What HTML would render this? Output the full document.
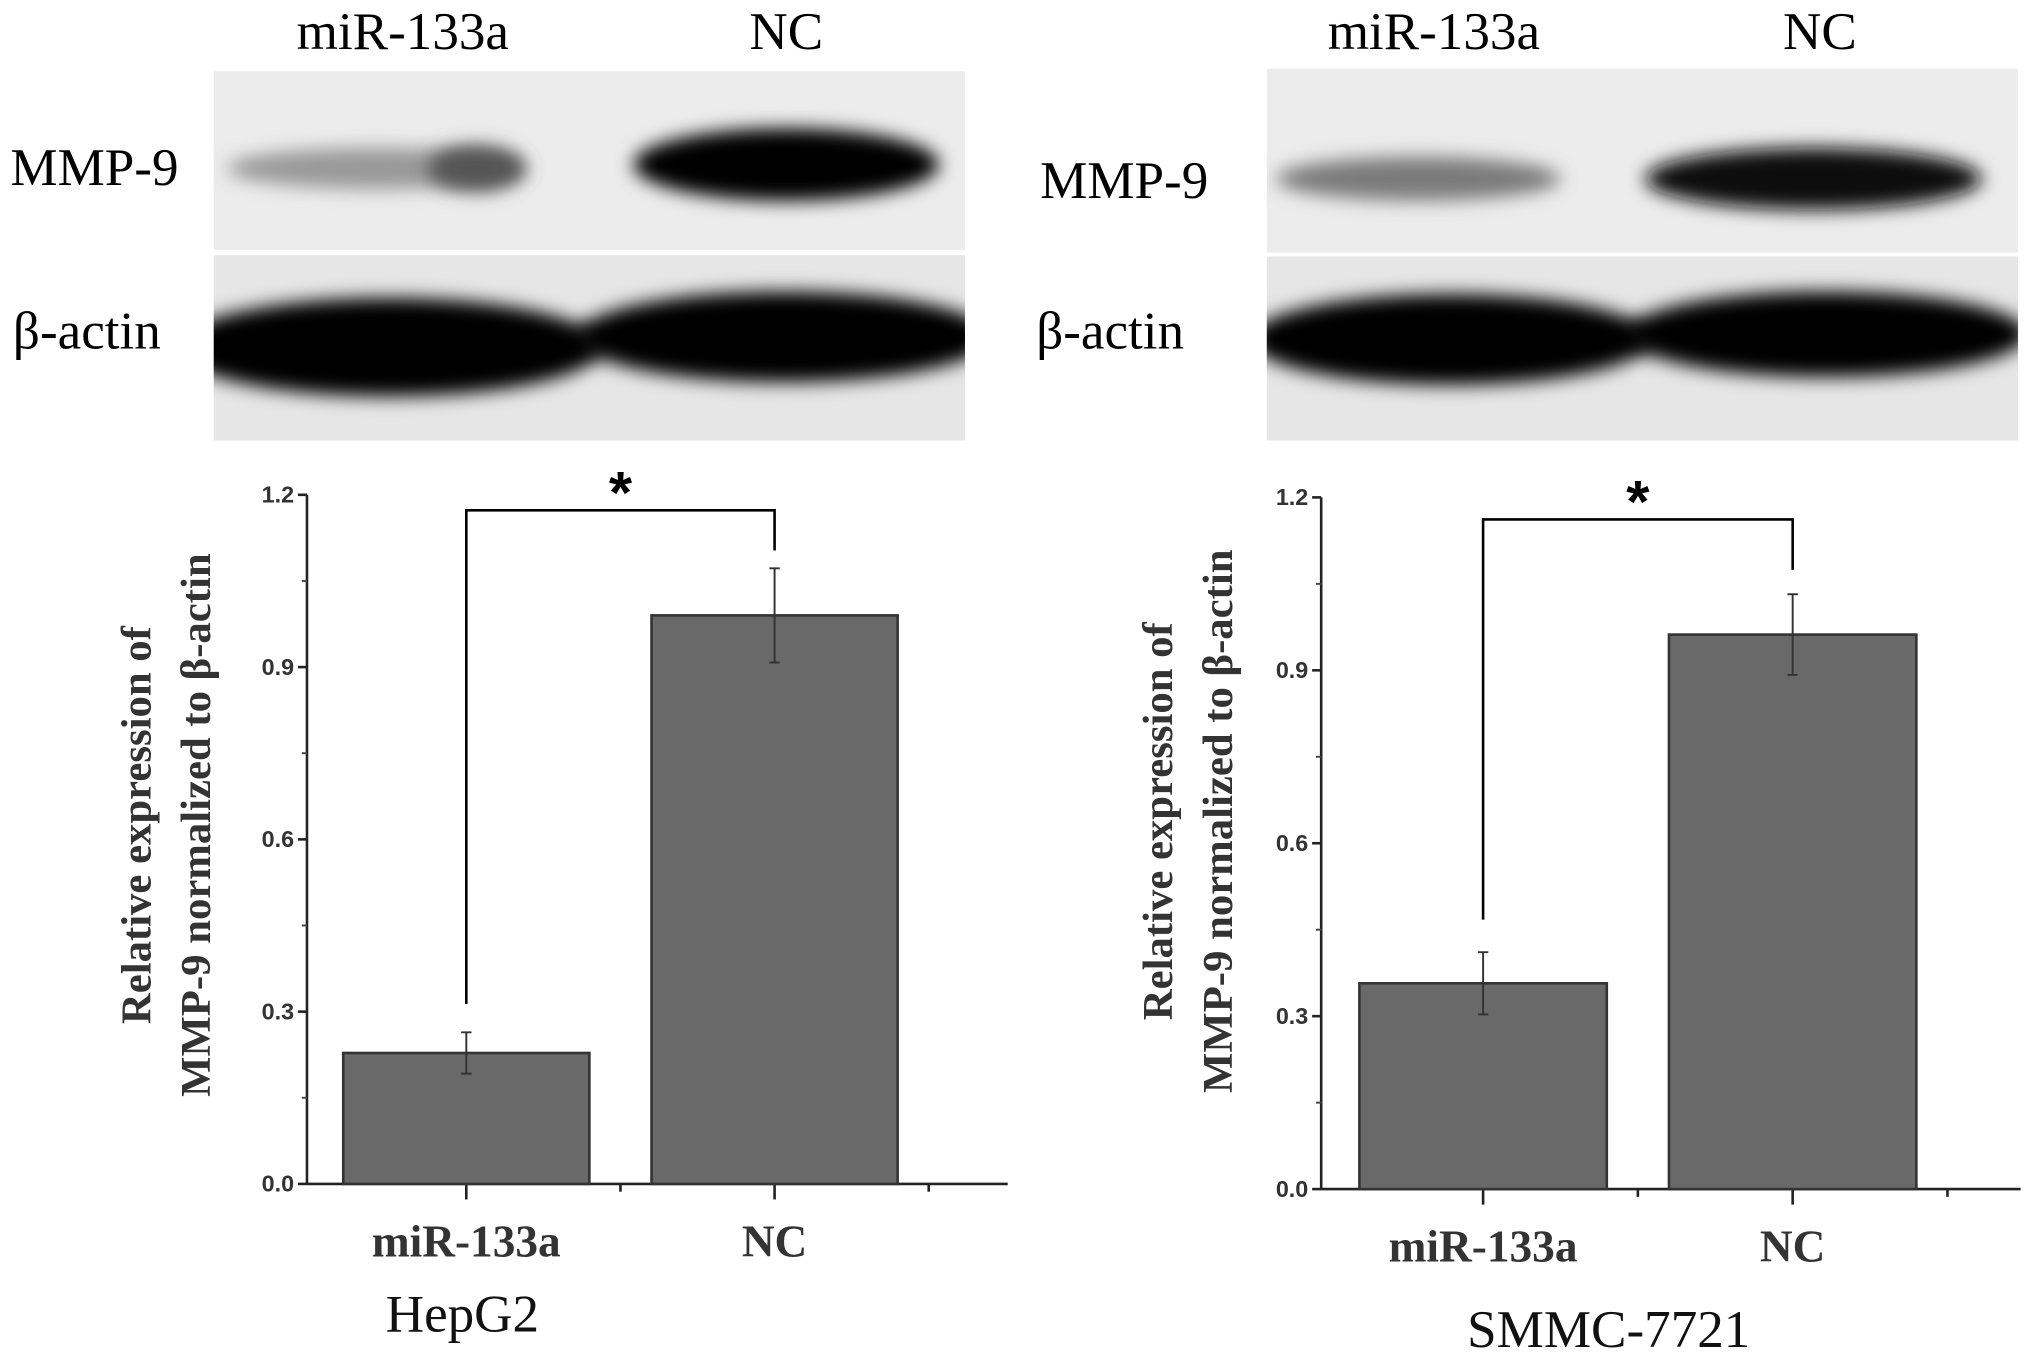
<!DOCTYPE html>
<html><head><meta charset="utf-8"><style>
html,body{margin:0;padding:0;background:#fff;}
svg{display:block;}
</style></head><body>
<svg id="fig" width="2031" height="1358" viewBox="0 0 1568 1048.4" preserveAspectRatio="none" xmlns="http://www.w3.org/2000/svg">
<defs>
<filter id="b6" x="-20%" y="-50%" width="140%" height="200%"><feGaussianBlur stdDeviation="7"/></filter>
<clipPath id="cL1"><rect x="165" y="55" width="580" height="138"/></clipPath>
<clipPath id="cL2"><rect x="165" y="197" width="580" height="143"/></clipPath>
<clipPath id="cR1"><rect x="978" y="53" width="580" height="142"/></clipPath>
<clipPath id="cR2"><rect x="978" y="198" width="580" height="142"/></clipPath>
</defs>
<g font-family="Liberation Serif, serif">
<g>
<text x="311" y="38" font-size="41" text-anchor="middle">miR-133a</text>
<text x="607" y="38" font-size="41" text-anchor="middle">NC</text>
<text x="8" y="143" font-size="41">MMP-9</text>
<text x="10" y="269" font-size="41">β-actin</text>
<rect x="165" y="55" width="580" height="138" fill="#ececec"/>
<g clip-path="url(#cL1)">
<ellipse cx="290" cy="130" rx="115" ry="16" fill="#999" filter="url(#b6)"/>
<ellipse cx="368" cy="130" rx="38" ry="18" fill="#555" filter="url(#b6)"/>
<ellipse cx="607" cy="127" rx="118" ry="28" fill="#000" filter="url(#b6)"/>
</g>
<rect x="165" y="197" width="580" height="143" fill="#e6e6e6"/>
<g clip-path="url(#cL2)">
<ellipse cx="300" cy="268" rx="165" ry="38" fill="#000" filter="url(#b6)"/>
<ellipse cx="605" cy="260" rx="160" ry="35" fill="#000" filter="url(#b6)"/>
</g>
</g>
<g>
<text x="1107" y="38" font-size="41" text-anchor="middle">miR-133a</text>
<text x="1405" y="38" font-size="41" text-anchor="middle">NC</text>
<text x="803" y="153" font-size="41">MMP-9</text>
<text x="800" y="269" font-size="41">β-actin</text>
<rect x="978" y="53" width="580" height="142" fill="#ececec"/>
<g clip-path="url(#cR1)">
<ellipse cx="1095" cy="138" rx="110" ry="17" fill="#7a7a7a" filter="url(#b6)"/>
<ellipse cx="1400" cy="138" rx="130" ry="24" fill="#111" filter="url(#b6)"/>
</g>
<rect x="978" y="198" width="580" height="142" fill="#e6e6e6"/>
<g clip-path="url(#cR2)">
<ellipse cx="1120" cy="262" rx="155" ry="35" fill="#000" filter="url(#b6)"/>
<ellipse cx="1410" cy="258" rx="155" ry="33" fill="#000" filter="url(#b6)"/>
</g>
</g>
</g>
<g id="charts"></g>
</svg>
<script>
const categories = ["miR-133a", "NC"];
const hepg2Values = [0.228, 0.99];
const hepg2Errors = [0.036, 0.082];
const smmcValues = [0.357, 0.962];
const smmcErrors = [0.054, 0.07];
const yTicks = [0, 0.3, 0.6, 0.9, 1.2];
const yTickLabels = ["0.0", "0.3", "0.6", "0.9", "1.2"];
const cellLines = ["HepG2", "SMMC-7721"];

const NS = "http://www.w3.org/2000/svg";
const root = document.getElementById("charts");
function mk(tag, attrs, parent) {
  const e = document.createElementNS(NS, tag);
  for (const k in attrs) e.setAttribute(k, attrs[k]);
  parent.appendChild(e);
  return e;
}
function drawChart(cfg, values, errors, title, idx) {
  const g = mk("g", {}, root);
  
  
  const y = v => cfg.y0 - (v / 1.2) * (cfg.y0 - cfg.y1);
  const step = cfg.step;
  const x = i => cfg.cx0 + i * step * 2;
  const ya = mk("line", {x1: cfg.ax, y1: cfg.y1, x2: cfg.ax, y2: cfg.y0, stroke: "#222", "stroke-width": 2}, g);
  
  
  const xa = mk("line", {x1: cfg.ax, y1: cfg.y0, x2: cfg.axEnd, y2: cfg.y0, stroke: "#222", "stroke-width": 2}, g);
  
  
  yTicks.forEach((t, i) => {
    mk("line", {x1: cfg.ax - 7, y1: y(t), x2: cfg.ax, y2: y(t), stroke: "#222", "stroke-width": 2}, g);
    if (i < yTicks.length - 1) {
      const mid = (t + yTicks[i + 1]) / 2;
      mk("line", {x1: cfg.ax - 4, y1: y(mid), x2: cfg.ax, y2: y(mid), stroke: "#444", "stroke-width": 1.5}, g);
    }
    const tl = mk("text", {x: cfg.ax - 10, y: y(t) + 6, "font-family": "Liberation Sans, sans-serif", "font-size": 18, "font-weight": "bold", fill: "#333", "text-anchor": "end"}, g);
    tl.textContent = yTickLabels[i];
    
    
  });
  for (let k = 0; k < 4; k++) {
    const tx = cfg.cx0 + k * step;
    mk("line", {x1: tx, y1: cfg.y0, x2: tx, y2: cfg.y0 + (k % 2 === 0 ? 12 : 6), stroke: "#222", "stroke-width": 2}, g);
  }
  values.forEach((v, i) => {
    const b = mk("rect", {x: x(i) - cfg.bw / 2, y: y(v), width: cfg.bw, height: cfg.y0 - y(v), fill: "#696969", stroke: "#333", "stroke-width": 2}, g);
    
    
    const e = mk("path", {d: `M${x(i)},${y(v + errors[i])}V${y(v - errors[i])}M${x(i) - 4},${y(v + errors[i])}h8M${x(i) - 4},${y(v - errors[i])}h8`, stroke: "#333", "stroke-width": 1.5, fill: "none"}, g);
    
    
    const cl = mk("text", {x: x(i), y: cfg.y0 + 56, "font-family": "Liberation Serif, serif", "font-size": 35, "font-weight": "bold", fill: "#333", "text-anchor": "middle"}, g);
    cl.textContent = categories[i];
    
    
  });
  const br = mk("path", {d: `M${x(0)},${cfg.bl}V${cfg.bt}H${x(1)}V${cfg.br}`, stroke: "#000", "stroke-width": 2, fill: "none"}, g);
  
  
  const st = mk("text", {x: (x(0) + x(1)) / 2, y: cfg.bt + 2, "font-family": "Liberation Sans, sans-serif", "font-size": 46, "font-weight": "bold", "text-anchor": "middle"}, g);
  st.textContent = "*";
  
  
  const yl = mk("text", {transform: `translate(${cfg.ylx},${cfg.yly}) rotate(-90)`, "font-family": "Liberation Serif, serif", "font-size": 33, "font-weight": "bold", fill: "#333", "text-anchor": "middle"}, g);
  
  
  const t1 = mk("tspan", {x: 0, y: 0}, yl); t1.textContent = "Relative expression of";
  const t2 = mk("tspan", {x: 0, y: 46}, yl); t2.textContent = "MMP-9 normalized to β-actin";
  const ti = mk("text", {x: cfg.tx, y: cfg.ty, "font-family": "Liberation Serif, serif", "font-size": 41, fill: "#111", "text-anchor": "middle"}, g);
  ti.textContent = title;
  
  
}
drawChart({ax: 237, axEnd: 778, y0: 914, y1: 382, cx0: 360, step: 119, bw: 190, bt: 394, bl: 775, br: 425, ylx: 116, yly: 637, tx: 357, ty: 1028}, hepg2Values, hepg2Errors, cellLines[0], 1);
drawChart({ax: 1020, axEnd: 1560, y0: 918, y1: 384, cx0: 1145, step: 119.5, bw: 191, bt: 401, bl: 710, br: 440, ylx: 905, yly: 634, tx: 1242, ty: 1040}, smmcValues, smmcErrors, cellLines[1], 2);
</script>
</body></html>
